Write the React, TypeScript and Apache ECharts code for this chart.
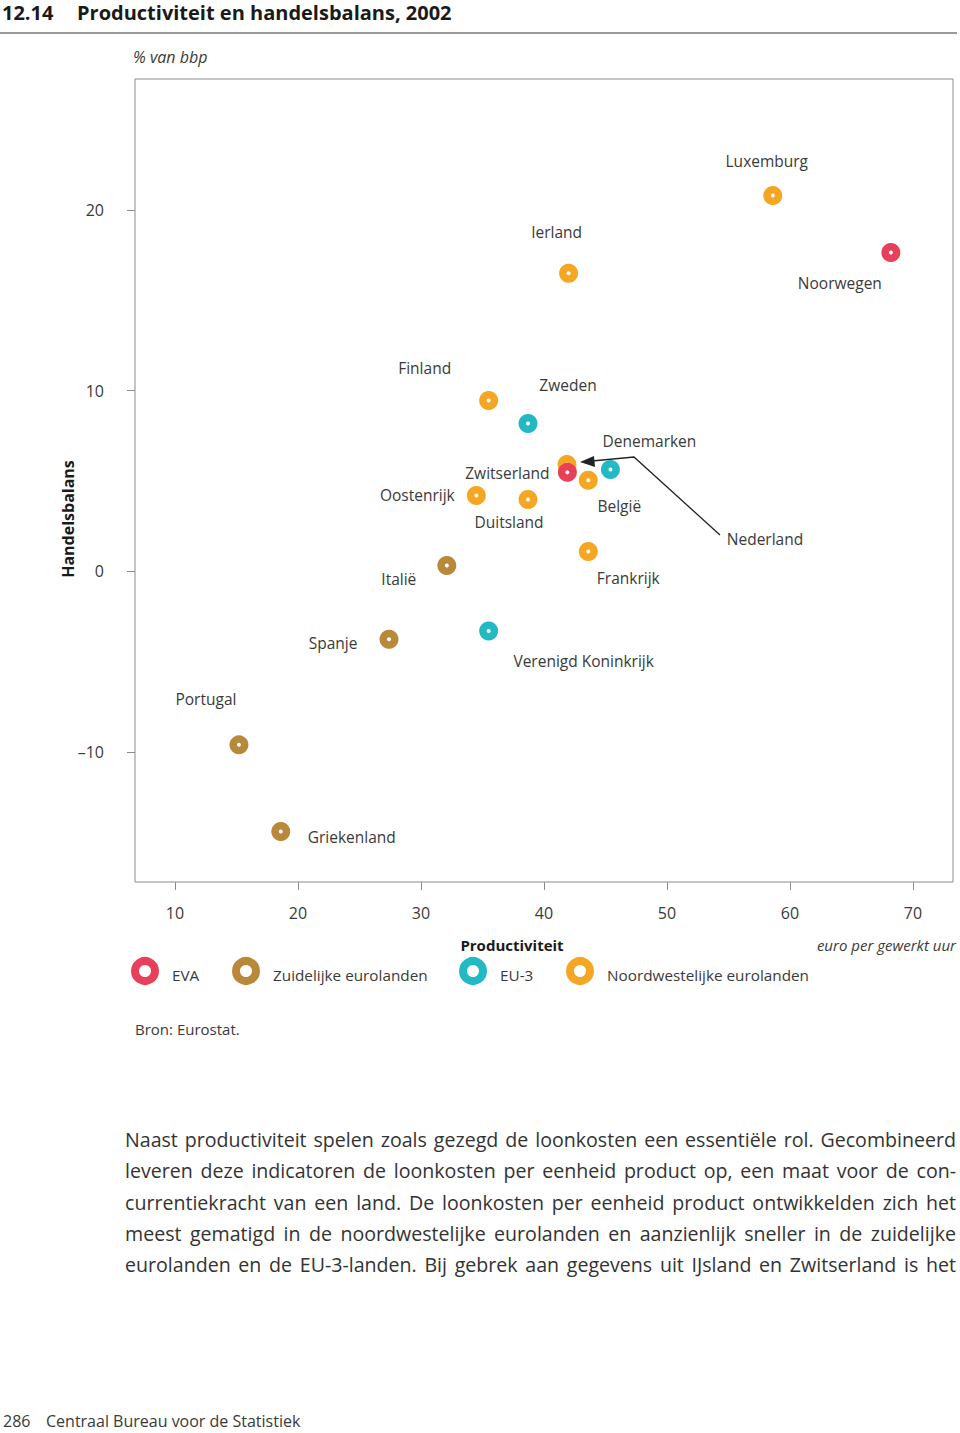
import React, { useEffect, useRef } from "react";
import * as echarts from "echarts";

const FONT = "'Open Sans', 'Noto Sans', sans-serif";
const TEXT = "#3a3a3a";

const xTicks = [10, 20, 30, 40, 50, 60, 70];
const yTicks = [-10, 0, 10, 20];

const groupNames = ["EVA", "Zuidelijke eurolanden", "EU-3", "Noordwestelijke eurolanden"];
const groupColors = ["#E8405A", "#B8893A", "#22B8C4", "#F5A623"];

const evaNames = ["Noorwegen", "Zwitserland"];
const evaX = [68.2, 41.9];
const evaY = [17.65, 5.48];

const zuidNames = ["Italië", "Spanje", "Portugal", "Griekenland"];
const zuidX = [32.1, 27.4, 15.2, 18.6];
const zuidY = [0.33, -3.76, -9.6, -14.4];

const eu3Names = ["Zweden", "Denemarken", "Verenigd Koninkrijk"];
const eu3X = [38.7, 45.4, 35.5];
const eu3Y = [8.19, 5.64, -3.3];

const nwNames = ["Luxemburg", "Ierland", "Finland", "Nederland", "België", "Oostenrijk", "Duitsland", "Frankrijk"];
const nwX = [58.6, 42.0, 35.5, 41.87, 43.6, 34.5, 38.7, 43.6];
const nwY = [20.8, 16.5, 9.46, 5.92, 5.04, 4.2, 3.98, 1.1];

// label offsets (pixels, label centre relative to marker centre)
const labelOffsets: Record<string, [number, number]> = {
  Luxemburg: [-6, -35],
  Noorwegen: [-51, 31],
  Ierland: [-12, -41],
  Finland: [-64, -32],
  Zweden: [40, -38],
  Denemarken: [39, -28],
  Zwitserland: [-60, 1],
  "België": [31, 26],
  Oostenrijk: [-59, 0],
  Duitsland: [-19, 23],
  Frankrijk: [40, 26],
  "Italië": [-48, 14],
  Spanje: [-56, 4],
  "Verenigd Koninkrijk": [95, 30],
  Portugal: [-33, -46],
  Griekenland: [71, 5],
  Nederland: [198, 75],
};

const paragraphLines = [
  "Naast productiviteit spelen zoals gezegd de loonkosten een essentiële rol. Gecombineerd",
  "leveren deze indicatoren de loonkosten per eenheid product op, een maat voor de con-",
  "currentiekracht van een land. De loonkosten per eenheid product ontwikkelden zich het",
  "meest gematigd in de noordwestelijke eurolanden en aanzienlijk sneller in de zuidelijke",
  "eurolanden en de EU-3-landen. Bij gebrek aan gegevens uit IJsland en Zwitserland is het",
];

function buildData(names: string[], xs: number[], ys: number[]) {
  return names.map((n, i) => ({
    name: n,
    value: [xs[i], ys[i]],
    label: { offset: labelOffsets[n] || [0, 0] },
  }));
}

export default function App() {
  const ref = useRef<HTMLDivElement>(null);
  useEffect(() => {
    document.body.style.margin = "0";
    if (!ref.current) return;
    const chart = echarts.init(ref.current, undefined, { renderer: "svg" });

    const groups = [
      { idx: 3, data: buildData(nwNames, nwX, nwY) },
      { idx: 2, data: buildData(eu3Names, eu3X, eu3Y) },
      { idx: 1, data: buildData(zuidNames, zuidX, zuidY) },
      { idx: 0, data: buildData(evaNames, evaX, evaY) },
    ];

    const series: any[] = [];
    groups.forEach((g, k) => {
      series.push({
        type: "scatter",
        name: groupNames[g.idx],
        data: g.data,
        symbol: "circle",
        symbolSize: 19,
        clip: false,
        z: 2 + k * 2,
        itemStyle: { color: groupColors[g.idx], opacity: 1 },
        label: {
          show: true,
          position: "inside",
          formatter: "{b}",
          color: TEXT,
          fontFamily: FONT,
          fontSize: 15.5,
          align: "center",
          verticalAlign: "middle",
        },
        emphasis: { disabled: true },
      });
      series.push({
        type: "scatter",
        data: g.data.map((d) => ({ name: d.name, value: d.value })),
        symbol: "circle",
        symbolSize: 4,
        clip: false,
        silent: true,
        z: 3 + k * 2,
        itemStyle: { color: "#ffffff", opacity: 1 },
        label: { show: false },
        emphasis: { disabled: true },
      });
    });

    const legendX = [145, 246, 473, 580];
    const legendGraphics: any[] = [];
    groupNames.forEach((n, i) => {
      legendGraphics.push({
        type: "circle",
        shape: { cx: legendX[i], cy: 971, r: 10 },
        style: { fill: "none", stroke: groupColors[i], lineWidth: 8 },
      });
      legendGraphics.push({
        type: "text",
        x: legendX[i] + 27,
        y: 975,
        style: {
          text: n,
          fill: TEXT,
          font: `15.3px ${FONT}`,
          textVerticalAlign: "middle",
        },
      });
    });

    chart.setOption({
      animation: false,
      textStyle: { fontFamily: FONT },
      grid: {
        left: 135,
        top: 79,
        width: 818,
        height: 803,
        show: true,
        borderColor: "#8c8c8c",
        borderWidth: 1,
        backgroundColor: "transparent",
      },
      xAxis: {
        type: "value",
        min: 6.748,
        max: 73.252,
        axisLine: { show: false, onZero: false },
        splitLine: { show: false },
        axisTick: {
          show: true,
          length: 8,
          customValues: xTicks,
          lineStyle: { color: "#8c8c8c" },
        },
        axisLabel: {
          customValues: xTicks,
          margin: 23,
          color: TEXT,
          fontSize: 16,
          fontFamily: FONT,
        },
      },
      yAxis: {
        type: "value",
        min: -17.19,
        max: 27.25,
        axisLine: { show: false, onZero: false },
        splitLine: { show: false },
        axisTick: {
          show: true,
          length: 8,
          customValues: yTicks,
          lineStyle: { color: "#8c8c8c" },
        },
        axisLabel: {
          customValues: yTicks,
          margin: 31,
          color: TEXT,
          fontSize: 16,
          fontFamily: FONT,
          formatter: (v: number) => (v < 0 ? "–" + Math.abs(v) : String(v)),
        },
      },
      series,
      graphic: [
        {
          type: "text",
          x: 2,
          y: 12,
          style: { text: "12.14", fill: "#1a1a1a", font: `bold 20px ${FONT}`, textVerticalAlign: "middle" },
        },
        {
          type: "text",
          x: 77,
          y: 12,
          style: {
            text: "Productiviteit en handelsbalans, 2002",
            fill: "#1a1a1a",
            font: `bold 20px ${FONT}`,
            textVerticalAlign: "middle",
          },
        },
        {
          type: "line",
          shape: { x1: 0, y1: 33, x2: 957, y2: 33 },
          style: { stroke: "#9a9a9a", lineWidth: 2 },
        },
        {
          type: "text",
          x: 133,
          y: 57,
          style: { text: "% van bbp", fill: TEXT, font: `italic 16px ${FONT}`, textVerticalAlign: "middle" },
        },
        {
          type: "text",
          x: 68,
          y: 519,
          rotation: Math.PI / 2,
          style: {
            text: "Handelsbalans",
            fill: "#1a1a1a",
            font: `bold 16px ${FONT}`,
            textAlign: "center",
            textVerticalAlign: "middle",
          },
        },
        {
          type: "text",
          x: 512,
          y: 945,
          style: {
            text: "Productiviteit",
            fill: "#1a1a1a",
            font: `bold 15px ${FONT}`,
            textAlign: "center",
            textVerticalAlign: "middle",
          },
        },
        {
          type: "text",
          x: 956,
          y: 945,
          style: {
            text: "euro per gewerkt uur",
            fill: TEXT,
            font: `italic 15px ${FONT}`,
            textAlign: "right",
            textVerticalAlign: "middle",
          },
        },
        {
          type: "polyline",
          shape: { points: [[720, 535], [634, 457], [592, 461]] },
          style: { stroke: "#222", lineWidth: 1.3, fill: "none" },
        },
        {
          type: "polygon",
          shape: { points: [[580, 462], [594, 456], [595, 467]] },
          style: { fill: "#222" },
        },
        ...legendGraphics,
        {
          type: "text",
          x: 135,
          y: 1029,
          style: { text: "Bron: Eurostat.", fill: TEXT, font: `15px ${FONT}`, textVerticalAlign: "middle" },
        },
        {
          type: "text",
          x: 3,
          y: 1421,
          style: { text: "286", fill: TEXT, font: `16px ${FONT}`, textVerticalAlign: "middle" },
        },
        {
          type: "text",
          x: 46,
          y: 1421,
          style: {
            text: "Centraal Bureau voor de Statistiek",
            fill: TEXT,
            font: `16px ${FONT}`,
            textVerticalAlign: "middle",
          },
        },
      ],
    });
    return () => chart.dispose();
  }, []);

  return (
    <div style={{ position: "relative", width: 960, height: 1433, overflow: "hidden" }}>
      <div ref={ref} style={{ position: "absolute", left: 0, top: 0, width: 960, height: 1433 }} />
      <div
        style={{
          position: "absolute",
          left: 125,
          top: 1124,
          width: 831,
          fontFamily: FONT,
          fontSize: 19.6,
          lineHeight: "31.3px",
          color: "#333",
        }}
      >
        {paragraphLines.map((l, i) => (
          <div key={i} style={{ textAlign: "justify", textAlignLast: "justify" }}>
            {l}
          </div>
        ))}
      </div>
    </div>
  );
}
